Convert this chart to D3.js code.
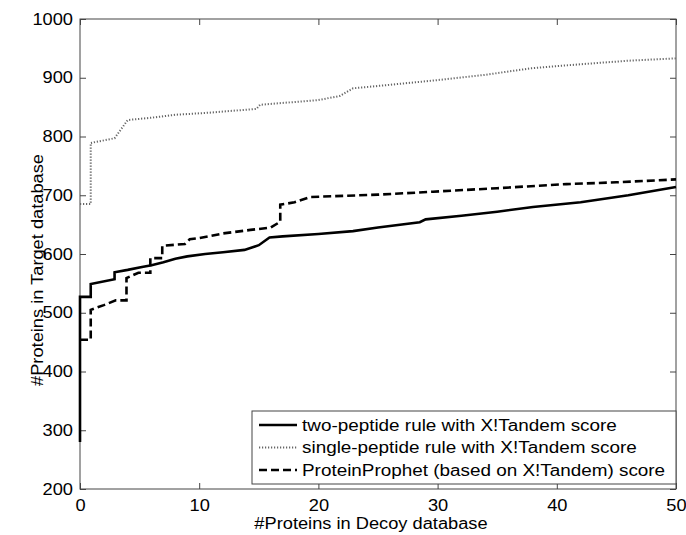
<!DOCTYPE html>
<html>
<head>
<meta charset="utf-8">
<script src="https://cdn.jsdelivr.net/npm/d3@7"></script>
<style>
  body { margin: 0; background: #fff; }
  svg text { font-family: "Liberation Sans", Arial, sans-serif; fill: #000; }
</style>
</head>
<body>
<div id="chart"></div>
<script>
// values
var twoX = [0, 0, 0.9, 0.9, 2.9, 2.9, 4, 5.2, 6, 7, 8, 9, 10.5, 12, 13.8, 15, 15.9, 17, 20, 22.9, 25, 28.5, 29, 32, 35, 38, 42, 46, 50];
var twoY = [280, 527, 527, 549, 557, 569, 573, 578, 581, 586, 592, 596, 600, 603, 607, 615, 628, 630, 634, 639, 645, 654, 659, 665, 672, 680, 688, 700, 714];

var singleX = [0, 0.9, 0.9, 2.9, 4, 6, 8, 10.5, 14.8, 15.1, 20, 21.8, 22.9, 26, 30, 34, 37.8, 42, 46, 50];
var singleY = [685, 685, 789, 797, 828, 832, 837, 840, 847, 854, 862, 869, 882, 888, 896, 905, 916, 923, 929, 933];

var prophetX = [0, 0.9, 0.9, 2, 3, 3.9, 3.9, 4.9, 5.9, 5.9, 6.9, 6.9, 8.8, 9.2, 10, 12, 14.3, 16, 16.8, 16.8, 18, 19.3, 25, 29.6, 35, 40.8, 45, 50];
var prophetY = [454, 454, 505, 513, 521, 521, 559, 568, 568, 593, 593, 614, 617, 625, 627, 635, 641, 645, 655, 684, 688, 697, 701, 706, 712, 719, 722, 727];

var xTicks = [0, 10, 20, 30, 40, 50];
var yTicks = [200, 300, 400, 500, 600, 700, 800, 900, 1000];
var legendNames = ["two-peptide rule with X!Tandem score",
                   "single-peptide rule with X!Tandem score",
                   "ProteinProphet (based on X!Tandem) score"];

var W = 686, H = 535;
var margin = {top: 19, right: 10, bottom: 46, left: 80};
var width = W - margin.left - margin.right,
    height = H - margin.top - margin.bottom;

var svg = d3.select("#chart").append("svg")
    .attr("width", W)
    .attr("height", H);

var g = svg.append("g").attr("transform", "translate(" + margin.left + "," + margin.top + ")");

var x = d3.scaleLinear().domain([0, 50]).range([0, width]);
var y = d3.scaleLinear().domain([200, 1000]).range([height, 0]);

// box + inward ticks on all four sides (matlab style)
var axisColor = "#444";
function styleAxis(sel) {
  sel.select(".domain").remove();
  sel.selectAll(".tick line").attr("stroke", axisColor);
  sel.selectAll(".tick text").style("font-size", "16px");
}
g.append("g").attr("transform", "translate(0," + height + ")")
  .call(d3.axisBottom(x).tickValues(xTicks).tickSizeInner(-6).tickPadding(11).tickFormat(d3.format("d")))
  .call(styleAxis);
g.append("g")
  .call(d3.axisTop(x).tickValues(xTicks).tickSizeInner(-6).tickFormat(""))
  .call(styleAxis);
g.append("g")
  .call(d3.axisLeft(y).tickValues(yTicks).tickSizeInner(-6).tickPadding(7).tickFormat(d3.format("d")))
  .call(styleAxis);
g.append("g").attr("transform", "translate(" + width + ",0)")
  .call(d3.axisRight(y).tickValues(yTicks).tickSizeInner(-6).tickFormat(""))
  .call(styleAxis);
g.selectAll(".tick text").attr("fill", "#000");

g.append("rect")
  .attr("width", width).attr("height", height)
  .attr("fill", "none").attr("stroke", axisColor).attr("stroke-width", 1);

var line = d3.line().x(function(d) { return x(d[0]); }).y(function(d) { return y(d[1]); });

var series = [
  {name: legendNames[0], xs: twoX, ys: twoY, color: "#000", w: 2.6, dash: null},
  {name: legendNames[1], xs: singleX, ys: singleY, color: "#666", w: 2, dash: "1.2,1.8"},
  {name: legendNames[2], xs: prophetX, ys: prophetY, color: "#000", w: 2.6, dash: "8,4"}
];

series.forEach(function(s) {
  var pts = s.xs.map(function(v, i) { return [v, s.ys[i]]; });
  g.append("path")
    .datum(pts)
    .attr("d", line)
    .attr("fill", "none")
    .attr("stroke", s.color)
    .attr("stroke-width", s.w)
    .attr("stroke-dasharray", s.dash);
});

// legend
var lg = svg.append("g").attr("transform", "translate(252,411)");
lg.append("rect")
  .attr("width", 424).attr("height", 73)
  .attr("fill", "#fff").attr("stroke", axisColor).attr("stroke-width", 1);
series.forEach(function(s, i) {
  var yy = 14 + i * 22.5;
  lg.append("line")
    .attr("x1", 7).attr("x2", 45).attr("y1", yy).attr("y2", yy)
    .attr("stroke", s.color).attr("stroke-width", s.w)
    .attr("stroke-dasharray", s.dash);
  lg.append("text")
    .attr("class", "wide")
    .attr("x", 50).attr("y", yy + 5.5)
    .style("font-size", "16px")
    .text(s.name);
});

// axis labels
svg.append("text")
  .attr("x", 371).attr("y", 529)
  .attr("text-anchor", "middle")
  .style("font-size", "16px")
  .text("#Proteins in Decoy database");
svg.append("text")
  .attr("transform", "translate(43,270) rotate(-90)")
  .attr("text-anchor", "middle")
  .style("font-size", "16px")
  .text("#Proteins in Target database");

// the reference font runs wider than Arial, stretch glyphs a bit
svg.selectAll("text").each(function() {
  var k = d3.select(this).classed("wide") ? 1.18 : 1.14;
  var len = this.getComputedTextLength();
  if (len > 0) {
    d3.select(this).attr("textLength", len * k).attr("lengthAdjust", "spacingAndGlyphs");
  }
});
</script>
</body>
</html>
